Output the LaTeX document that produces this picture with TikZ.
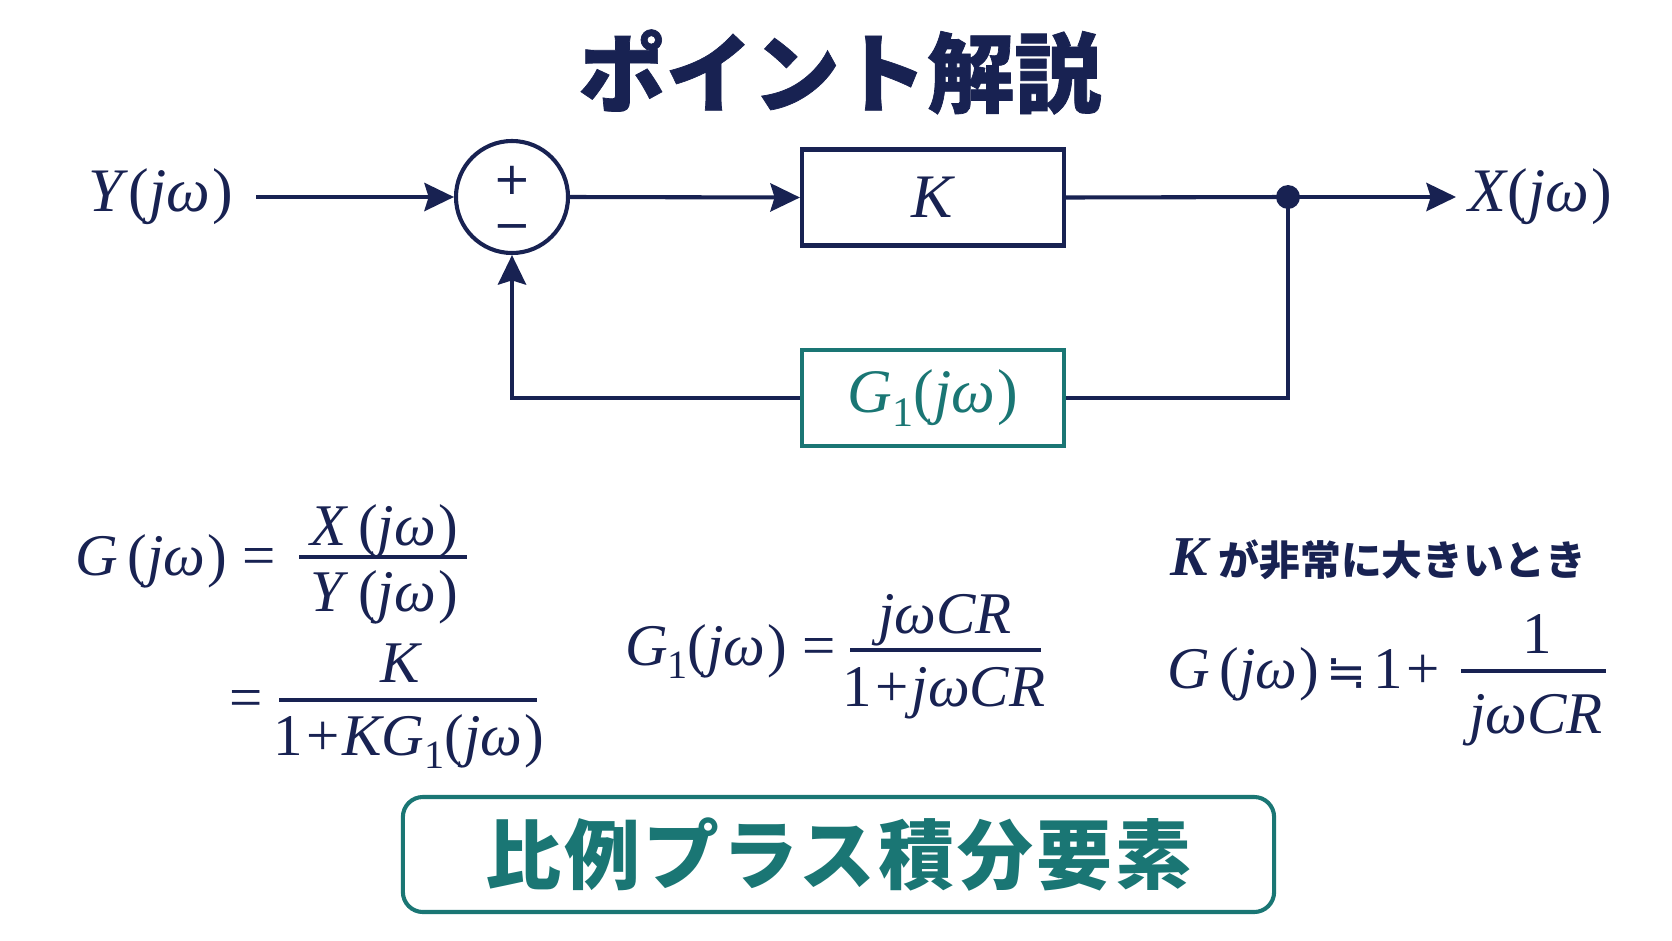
\documentclass[tikz,border=0pt]{standalone}
\usepackage{fontspec}
\setmainfont{Liberation Serif}
\newfontfamily\cjk{Noto Sans CJK JP}
\newfontfamily\djv{DejaVu Sans}
\usetikzlibrary{arrows.meta,calc}
\definecolor{navy}{RGB}{24,34,82}
\definecolor{teal2}{RGB}{26,118,116}
\newcommand{\I}[1]{\textit{#1}}
\newcommand{\jw}{(\I{jω\kern.04em})}
\newcommand{\sub}[1]{\raisebox{-.22em}{\fontsize{0.68em}{1em}\selectfont #1}}
\begin{document}
\begin{tikzpicture}[x=0.025cm,y=-0.025cm,
  line width=2.9pt, navy,
  arr/.style={-{Stealth[length=21pt,width=20pt,inset=3pt]}},
  blk/.style={draw, line width=2.9pt, minimum width=6.55cm, minimum height=2.4cm, inner sep=0pt},
  lab/.style={font=\fontsize{44}{50}\selectfont, inner sep=0pt},
  eqt/.style={font=\fontsize{42}{50}\selectfont, inner sep=0pt},
  fbar/.style={line width=2.2pt},
]
\useasboundingbox[fill=white] (0,0) rectangle (1672,941);

\node[font=\cjk\bfseries\fontsize{62}{70}\selectfont, inner sep=0pt] (title) at (840,72) {\addfontfeatures{FakeBold=0.8}ポイント解説};

% block diagram
\node[lab, anchor=east] (ylab) at (235,197) {\I{Y}\jw};
\node[circle, draw, minimum size=2.8cm, inner sep=0pt] (sum) at (512,197) {};
\node[font=\djv\fontsize{32}{32.7}\selectfont, inner sep=0pt, align=center] (pm) at (512,203) {+\\−};
\node[blk, lab] (K) at (933,197.5) {\I{K}};
\node[blk, lab, draw=teal2, text=teal2] (G1) at (933,398) {\I{G}\sub{1}\jw};
\coordinate (jn) at (1288,197);
\node[lab, anchor=west] (xlab) at (1466,197) {\I{X}\jw};

\draw[arr] ($(ylab.east)+(21,0)$) -- (sum.west);
\draw[arr] (sum.east) -- (K.west);
\draw (K.east) -- (jn);
\draw[arr] (jn) -- ($(xlab.west)+(-10,0)$);
\draw (jn) |- (G1.east);
\draw[arr] (G1.west) -| (sum.south);
\fill (jn) circle[radius=8.5pt];

% equation 1
\node[eqt, anchor=base west] (e1l) at (73,575) {\I{G}\,\jw\ =};
\node[eqt, anchor=base] (e1n) at (384,545) {\I{X}\,\jw};
\node[eqt, anchor=base] (e1d) at (384,611) {\I{Y}\,\jw};
\draw[fbar] (299,557) -- (467,557);
\node[eqt, anchor=base west] (e2l) at (227,717) {=};
\node[eqt, anchor=base] (e2n) at (401,682) {\I{K}};
\node[eqt, anchor=base] (e2d) at (409,755) {1\kern.05em+\kern.05em\I{KG}\sub{1}\jw};
\draw[fbar] (279,700) -- (537,700);

% equation 2
\node[eqt, anchor=base west] (e3l) at (623,665) {\I{G}\sub{1}\jw\ =};
\node[eqt, anchor=base] (e3n) at (945,633) {\I{jωCR}};
\node[eqt, anchor=base] (e3d) at (944,706) {1\kern.05em+\kern.05em\I{jωCR}};
\draw[fbar] (850,650) -- (1041,650);

% equation 3
\node[anchor=base west, inner sep=0pt, font=\fontsize{29}{34}\selectfont] (hdr) at (1168,575) {{\fontsize{40}{44}\selectfont\textbf{\textit{K}}}\kern.2em{\cjk\bfseries が非常に大きいとき}};
\node[eqt, anchor=base west] (e4l) at (1165,688) {\I{G}\,\jw\kern.12em{\djv\fontsize{34}{40}\selectfont ≒}\kern.12em1\kern.05em+};
\node[eqt, anchor=base] (e4n) at (1537,653) {1};
\node[eqt, anchor=base] (e4d) at (1536,733) {\I{jωCR}};
\draw[fbar] (1461,671) -- (1606,671);

% bottom label
\node[draw=teal2, text=teal2, line width=2.9pt, rounded corners=0.5cm,
  minimum width=21.775cm, minimum height=2.875cm, inner sep=0pt,
  font=\cjk\bfseries\fontsize{54}{60}\selectfont] (bot) at (838.5,854.5)
  {\addfontfeatures{LetterSpace=4}比例プラス積分要素};
\end{tikzpicture}
\end{document}
